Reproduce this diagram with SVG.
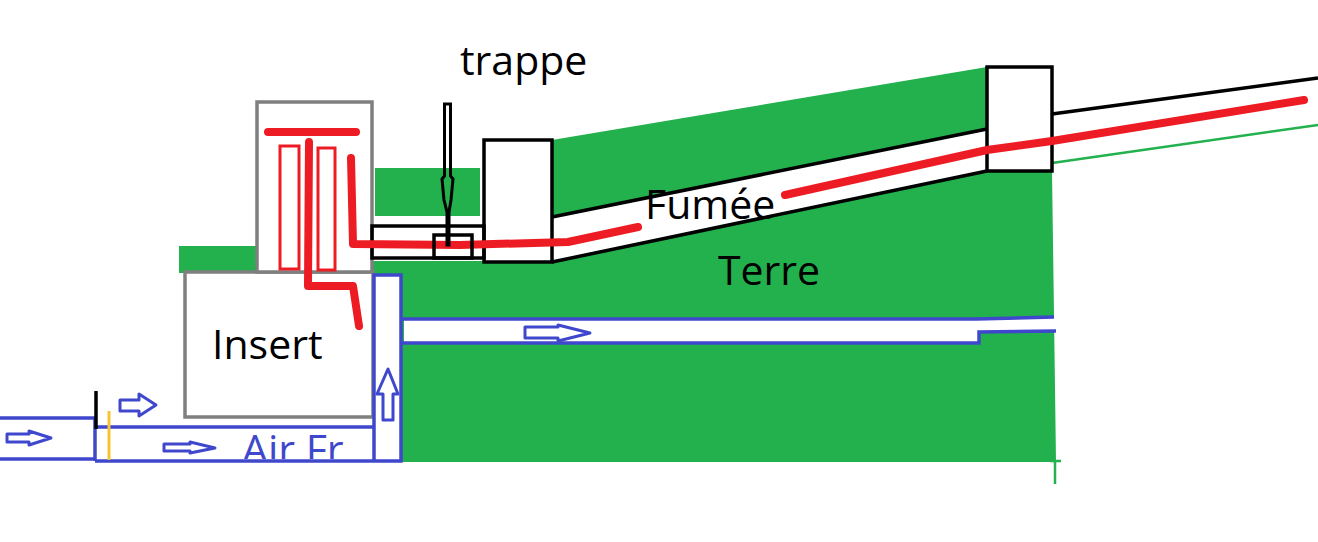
<svg xmlns="http://www.w3.org/2000/svg" width="1318" height="542" viewBox="0 0 1318 542">
<defs><clipPath id="airclip"><rect x="200" y="420" width="172" height="39"/></clipPath></defs>
<style>
.g{fill:#22b14c;stroke:none}
.gl{fill:none;stroke:#22b14c;stroke-width:2.500}
.k{fill:none;stroke:#000;stroke-width:3.500}
.k2{fill:none;stroke:#000;stroke-width:3}
.b{fill:none;stroke:#3f48cc;stroke-width:3.500}
.a{fill:#fff;stroke:#3f48cc;stroke-width:3;stroke-linejoin:round}
.w{fill:#fff;stroke:none}
.gr{fill:#fff;stroke:#7f7f7f;stroke-width:3.500}
.r{fill:none;stroke:#ed1c24;stroke-width:8;stroke-linecap:round;stroke-linejoin:round}
.rb{fill:#fff;stroke:#ed1c24;stroke-width:3}
text{font-family:"Open Sans","Noto Sans","Liberation Sans",sans-serif;fill:#000}
</style>
<rect width="1318" height="542" fill="#fff"/>
<g id="terre">
<polygon class="g" points="373,261 552,261 987,171 1052,171 1054,315 1056,462 400,462 400,275 373,275"/>
<polygon class="g" points="552,140 987,67 987,128 552,217"/>
<rect class="g" x="375" y="168" width="105" height="48"/>
<rect class="g" x="179" y="246" width="78" height="27"/>
<path class="gl" d="M1055,460V484M1050,461H1061M1052,163L1318,125"/>
<text x="718" y="285" font-size="41">Terre</text>
</g>
<g id="insert">
<rect class="gr" x="185" y="272" width="188" height="145"/>
<text x="212" y="359" font-size="41">Insert</text>
</g>
<g id="foyer">
<rect class="gr" x="257" y="102" width="115" height="170"/>
<rect class="rb" x="280" y="146" width="19" height="123"/>
<rect class="rb" x="318" y="148" width="17" height="122"/>
</g>
<g id="conduit-fumee">
<rect class="k" x="372" y="226" width="112" height="32"/>
<path class="k" d="M552,217L987,129M552,262L987,171M1052,114L1318,78"/>
<rect class="k" x="484" y="140" width="68" height="122" fill="#fff"/>
<rect class="k" x="987" y="67" width="65" height="104" fill="#fff"/>
</g>
<g id="air-frais">
<polygon class="w" points="404,319 1055,318 1055,331 979,333 979,344 404,344"/>
<path class="b" d="M0,418H95V459H0M95,461H401V275H374V461M95,427H374M95,427V461"/>
<path class="b" d="M402,319H976L1054,317M402,343H979V332L1056,331"/>
<path d="M96,391V429" stroke="#000" stroke-width="3.500" fill="none"/>
<path d="M109,411V460" stroke="#f5c530" stroke-width="3" fill="none"/>
<polygon class="a" points="7,434 29,434 29,431 51,438 29,445 29,442 7,442"/>
<polygon class="a" points="120,400 139,400 139,394 156,405 139,416 139,411 120,411"/>
<polygon class="a" points="164,444 190,444 190,442 215,448 190,453 190,451 164,451"/>
<polygon class="a" points="383,420 383,394 377,394 388,369 398,394 393,394 393,420"/>
<polygon class="a" points="525,327 558,327 558,325 590,333 558,341 558,338 525,338"/>
<text x="242" y="464" font-size="41" clip-path="url(#airclip)" style="fill:#3f48cc">Air Fr</text>
</g>
<g id="fumee">
<path class="r" d="M268,132H356"/>
<path class="r" d="M309,142L308,286H353L359,326"/>
<path class="r" d="M351,158L353,244L460,245L568,242L638,227"/>
<path class="r" d="M785,195L987,150L1052,141L1304,100"/>
<text x="645" y="219" font-size="41">Fumée</text>
</g>
<g id="trappe">
<rect class="k" x="434" y="235" width="38" height="23"/>
<path class="k2" d="M444.500,104H450.500V176L453,179L451,200L449,212V245H447V212L444,200L442,179L444.500,176Z"/>
<text x="460" y="75" font-size="41">trappe</text>
</g>
</svg>
